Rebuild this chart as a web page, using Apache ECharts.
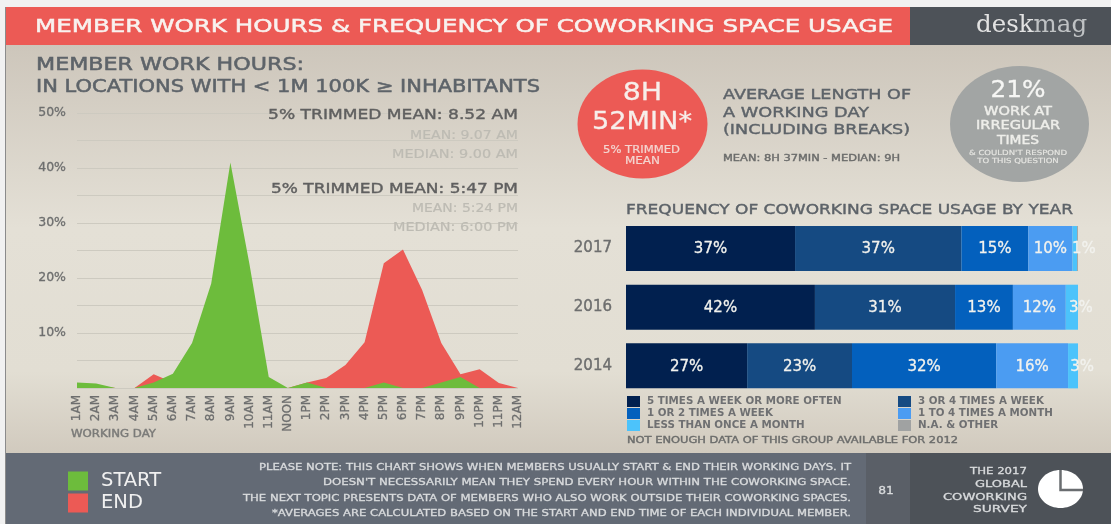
<!DOCTYPE html>
<html><head><meta charset="utf-8">
<style>html,body{margin:0;padding:0;background:#f1f1f1}#c{width:1111px;height:524px}</style>
<script src="https://cdn.jsdelivr.net/npm/echarts@6/dist/echarts.min.js"></script>
</head><body><div id="c"></div>
<script>
const hours = ['1AM','2AM','3AM','4AM','5AM','6AM','7AM','8AM','9AM','10AM','11AM','NOON','1PM','2PM','3PM','4PM','5PM','6PM','7PM','8PM','9PM','10PM','11PM','12AM'];
const startValues = [1,0.8,0,0,1,2.6,8.2,19,41,22.4,2,0,1,0,0,0,1,0,0,1,2,0,0,0];
const endValues = [0,0.5,0,0,2.5,1,0,0,0,0,0,0,1,1.8,4.2,8.3,22.7,25.2,17.8,8.2,2.5,3.4,0.9,0];
const years = ['2017','2016','2014'];
const freqNames = ['5 TIMES A WEEK OR MORE OFTEN','3 OR 4 TIMES A WEEK','1 OR 2 TIMES A WEEK','1 TO 4 TIMES A MONTH','LESS THAN ONCE A MONTH','N.A. & OTHER'];
// bar lengths as measured in the picture
const freq1 = [37.4,41.8,26.8];
const freq2 = [36.8,31,23.2];
const freq3 = [14.8,12.8,31.9];
const freq4 = [9.8,11.7,15.9];
const freq5 = [1,2.7,2.2];
const freq6 = [0.2,0,0];
// percentages as printed on the bars
const printed1 = [37,42,27];
const printed2 = [37,31,23];
const printed3 = [15,13,32];
const printed4 = [10,12,16];
const printed5 = [1,3,3];
const freqColors = ['#01204f','#154a82','#0360bd','#4b9cf2','#4cc3fb','#a0a2a2'];
const FONT = '"DejaVu Sans"';
const GREEN = '#6dbc3c', RED = '#ec5a55', DARK = '#4d5258', SLATE = '#636a75';

const mctx = document.createElement('canvas').getContext('2d');
function t(text,x,y,size,color,align,width,sw,weight){
  mctx.font = (weight||'normal')+' '+size+'px '+FONT;
  const sx = width ? width/mctx.measureText(text).width : 1;
  return {type:'text',x:x,y:y+1,z:20,scaleX:sx,
    style:{text:text,fontFamily:FONT,fontSize:size,fontWeight:weight||'normal',fill:color,
      stroke:color,lineWidth:sw===undefined?0.4:sw,align:align||'left',verticalAlign:'middle'}};
}
function r(x,y,w,h,fill,z){return {type:'rect',z:z||1,shape:{x:x,y:y,width:w,height:h},style:{fill:fill}};}
function el(cx,cy,rx,ry,fill){return {type:'ellipse',z:5,shape:{cx:cx,cy:cy,rx:rx,ry:ry},style:{fill:fill}};}

const H='#5d6369', LG='#bdbbb3', MID='#6a6c6e', FT='#d9dbdd';
const graphics = [
  {type:'rect',z:0,shape:{x:6,y:45,width:1105,height:408},style:{fill:new echarts.graphic.LinearGradient(0,0,0,1,[
    {offset:0,color:'#cdc6bb'},{offset:0.45,color:'#e4e0d6'},{offset:0.8,color:'#e2ded3'},{offset:1,color:'#d1cabe'}])}},
  r(5,7,1,517,'#8b8b8b',1),
  r(6,7,904,38,RED,1), r(910,7,201,38,DARK,1),
  r(6,453,860,71,SLATE,1), r(866,453,44,71,'#5a5f67',1), r(910,453,201,71,DARK,1),
  t('MEMBER WORK HOURS & FREQUENCY OF COWORKING SPACE USAGE',35,26,18.5,'#f8f2ef','left',858,0.5),
  {type:'text',x:976,y:26,z:20,style:{text:'{a|desk}{b|mag}',verticalAlign:'middle',
    rich:{a:{fontFamily:'"DejaVu Serif"',fontSize:24.5,fill:'#e2e2e2'},b:{fontFamily:'"DejaVu Serif"',fontSize:24.5,fill:'#bfc2c4'}}}},
  t('MEMBER WORK HOURS:',36,65,17,H,'left',268,0.5),
  t('IN LOCATIONS WITH < 1M 100K ≥ INHABITANTS',36,87,17,H,'left',504,0.5),
  t('5% TRIMMED MEAN: 8.52 AM',518,114,14.5,'#5f5f5f','right',250),
  t('MEAN: 9.07 AM',518,135,11.5,LG,'right',108,0.2),
  t('MEDIAN: 9.00 AM',518,154,11.5,LG,'right',126,0.2),
  t('5% TRIMMED MEAN: 5:47 PM',518,188,14.5,'#5f5f5f','right',247),
  t('MEAN: 5:24 PM',518,208,11.5,LG,'right',106,0.2),
  t('MEDIAN: 6:00 PM',518,227,11.5,LG,'right',125,0.2),
  t('WORKING DAY',71,433,10,'#7a7a78','left',85),
  el(642.5,124,65,54.5,RED),
  t('8H',642.5,93,24,'#f7eeea','center',39.5,0.3),
  t('52MIN*',642,121,25,'#f7eeea','center',100,0.3),
  t('5% TRIMMED',641.5,149.5,10,'#f4d5d0','center',77,0.2),
  t('MEAN',642.5,160,10,'#f4d5d0','center',35,0.2),
  t('AVERAGE LENGTH OF',723,94.5,14,H,'left',188),
  t('A WORKING DAY',723,112,14,H,'left',146),
  t('(INCLUDING BREAKS)',723,129.5,14,H,'left',187),
  t('MEAN: 8H 37MIN - MEDIAN: 9H',723,158,9.5,'#6b6c6b','left',177),
  el(1019.5,124,69.5,58,'#a2a5a4'),
  t('21%',1018,90,23,'#f6f6f4','center',55,0.3),
  t('WORK AT',1018,111,11.5,'#eeeeea','center',68),
  t('IRREGULAR',1018,125.5,11.5,'#eeeeea','center',84),
  t('TIMES',1018,140,11.5,'#eeeeea','center',42),
  t('& COULDN\'T RESPOND',1018,152,7,'#e6e6e2','center',98,0.15),
  t('TO THIS QUESTION',1018,160.5,7,'#e6e6e2','center',81.5,0.15),
  t('FREQUENCY OF COWORKING SPACE USAGE BY YEAR',626,209,14,H,'left',447),
  t('NOT ENOUGH DATA OF THIS GROUP AVAILABLE FOR 2012',627,440,9.5,'#6b6c6b','left',331),
  t('PLEASE NOTE: THIS CHART SHOWS WHEN MEMBERS USUALLY START & END THEIR WORKING DAYS. IT',851,467,9,FT,'right',592,0.3),
  t('DOESN\'T NECESSARILY MEAN THEY SPEND EVERY HOUR WITHIN THE COWORKING SPACE.',851,482,9,FT,'right',528,0.3),
  t('THE NEXT TOPIC PRESENTS DATA OF MEMBERS WHO ALSO WORK OUTSIDE THEIR COWORKING SPACES.',851,498,9,FT,'right',608,0.3),
  t('*AVERAGES ARE CALCULATED BASED ON THE START AND END TIME OF EACH INDIVIDUAL MEMBER.',851,513,9,FT,'right',579,0.3),
  t('81',886,490,10,FT,'center',15.6,0.3),
  t('THE 2017',1027,471,9.5,FT,'right',57,0.3),
  t('GLOBAL',1027,484,9.5,FT,'right',52,0.3),
  t('COWORKING',1027,496.5,9.5,FT,'right',84,0.3),
  t('SURVEY',1027,509,9.5,FT,'right',54,0.3),
  el(1060.5,489,22.5,19,'#ffffff'),
  {type:'polyline',z:6,shape:{points:[[1060.5,470],[1060.5,490],[1083,490]]},style:{fill:null,stroke:'#6a6d70',lineWidth:2.5}}
];

function barSeries(name,vals,printed,i){
  return {name:name,type:'bar',stack:'f',xAxisIndex:1,yAxisIndex:1,barWidth:45,z:3,
    itemStyle:{color:freqColors[i]},
    data:vals.map((v,k)=>({value:v,
      label:{show:!!printed,offset:i===4?[9,1]:[0,1],formatter:printed?printed[k]+'%':''}})),
    label:{position:'inside',color:'#f2f2ee',fontFamily:FONT,fontSize:15,
      textBorderColor:'#f2f2ee',textBorderWidth:0.3}};
}
function areaSeries(name,vals,color,z){
  return {name:name,type:'line',xAxisIndex:0,yAxisIndex:0,data:vals,symbol:'none',z:z,
    itemStyle:{color:color},lineStyle:{width:0},areaStyle:{color:color,opacity:1}};
}
const legendText={color:'#6f7072',fontFamily:FONT,fontSize:10.3,fontWeight:'bold',padding:[1,0,0,2]};
const axisText={color:'#6d6e6e',fontFamily:FONT,textBorderColor:'#6d6e6e',textBorderWidth:0.3};
const option={
  animation:false,backgroundColor:'#f1f1f1',
  graphic:{elements:graphics},
  grid:[{left:77,width:441,top:113,height:275},{left:626,width:452,top:219.2,height:176}],
  xAxis:[
    {type:'category',gridIndex:0,data:hours,boundaryGap:false,axisLine:{show:false},axisTick:{show:false},
      axisLabel:Object.assign({rotate:90,interval:0,margin:7,fontSize:12},axisText)},
    {type:'value',gridIndex:1,min:0,max:100,show:false}
  ],
  yAxis:[
    {type:'value',gridIndex:0,min:0,max:50,interval:5,axisLine:{show:false},axisTick:{show:false},
      splitLine:{lineStyle:{color:'#cdcac0',width:1}},
      axisLabel:Object.assign({margin:11,fontSize:12.5,formatter:v=>(v>0&&v%10===0)?v+'%':''},axisText)},
    {type:'category',gridIndex:1,data:years,inverse:true,axisLine:{show:false},axisTick:{show:false},
      axisLabel:Object.assign({margin:14,fontSize:15,padding:[3,0,0,0]},axisText,{textBorderWidth:0.4})}
  ],
  legend:[
    {left:68,top:471,orient:'vertical',icon:'rect',itemWidth:20,itemHeight:19,itemGap:2,selectedMode:false,padding:0,
      data:['START','END'],textStyle:{color:'#f0f0f0',fontFamily:FONT,fontSize:19.5,padding:[0,0,0,8]}},
    {left:627,top:396,orient:'vertical',icon:'rect',itemWidth:13,itemHeight:11,itemGap:1,selectedMode:false,padding:0,
      data:[freqNames[0],freqNames[2],freqNames[4]],textStyle:legendText},
    {left:898,top:396,orient:'vertical',icon:'rect',itemWidth:13,itemHeight:11,itemGap:1,selectedMode:false,padding:0,
      data:[freqNames[1],freqNames[3],freqNames[5]],textStyle:legendText}
  ],
  series:[
    areaSeries('END',endValues,RED,2),
    areaSeries('START',startValues,GREEN,3),
    barSeries(freqNames[0],freq1,printed1,0),barSeries(freqNames[1],freq2,printed2,1),barSeries(freqNames[2],freq3,printed3,2),
    barSeries(freqNames[3],freq4,printed4,3),barSeries(freqNames[4],freq5,printed5,4),barSeries(freqNames[5],freq6,null,5)
  ]
};
echarts.init(document.getElementById('c'),null,{renderer:'canvas'}).setOption(option);
</script></body></html>
